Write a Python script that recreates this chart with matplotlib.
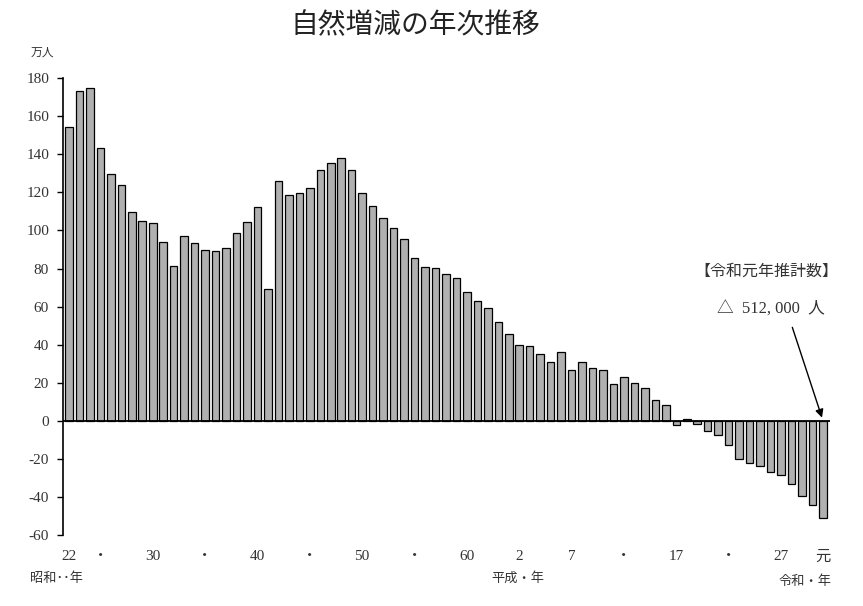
import numpy as np
import matplotlib
matplotlib.use("Agg")
import matplotlib.pyplot as plt

# natural increase (births - deaths), unit: 10,000 persons, 1947 (S22) .. 2019 (R1)
years = list(range(1947, 2020))
natural_increase = [
    154.1, 173.1, 175.1, 143.3, 129.9, 124.0, 109.5, 104.8, 103.7, 94.1,
    81.4, 96.9, 93.6, 89.9, 89.4, 90.8, 98.9, 104.4, 112.3, 69.1,
    126.1, 118.5, 119.6, 122.1, 131.6, 135.5, 138.3, 131.9, 119.9, 112.9,
    106.5, 101.3, 95.3, 85.4, 80.9, 80.4, 76.9, 75.0, 67.9, 63.2,
    59.5, 52.1, 45.8, 40.1, 39.3, 35.2, 31.0, 36.2, 26.5, 31.0,
    27.8, 26.7, 19.6, 22.9, 20.0, 17.1, 10.9, 8.2, -2.1, 0.8,
    -1.9, -5.1, -7.2, -12.6, -20.2, -21.9, -23.9, -26.9, -28.5, -33.1,
    -39.4, -44.4, -51.2,
]

tick_years = [1947, 1950, 1955, 1960, 1965, 1970, 1975, 1980, 1985,
              1990, 1995, 2000, 2005, 2010, 2015, 2019]
tick_labels = ["22", "・", "30", "・", "40", "・", "50", "・", "60",
               "2", "7", "・", "17", "・", "27", "元"]

estimate_title = "【令和元年推計数】"
estimate_text = "△  512, 000  人"

plt.rcParams['font.family'] = ['Liberation Serif', 'Noto Sans CJK JP']
plt.rcParams['axes.unicode_minus'] = False

fig = plt.figure(figsize=(8.63, 6.06), dpi=100)
ax = fig.add_axes([0.073, 0.117, 0.889, 0.754])

x = np.arange(len(years))
ax.bar(x, natural_increase, width=0.72, color='#b0b0b0', edgecolor='black', linewidth=0.9, zorder=2)
ax.axhline(0, color='black', linewidth=1.3, zorder=3)

ax.set_xlim(-0.57, 72.7)
ax.set_ylim(-60, 180)
ax.set_yticks(range(-60, 181, 20))
ax.tick_params(axis='y', direction='out', length=4, width=1, labelsize=11, colors='black', pad=6)
for lab in ax.get_yticklabels():
    lab.set_color('#333333')

tick_pos = [y - years[0] for y in tick_years]
ax.set_xticks(tick_pos)
ax.set_xticklabels(tick_labels, fontsize=11, color='#333333')
ax.tick_params(axis='x', length=0, pad=11)

for side in ['top', 'right', 'bottom']:
    ax.spines[side].set_visible(False)
ax.spines['left'].set_linewidth(1.2)

fig.text(0.481, 0.958, "自然増減の年次推移", fontsize=20, ha='center', va='center',
         family=['Noto Sans CJK JP'], color='#222222')
fig.text(0.049, 0.914, "万人", fontsize=8.5, ha='center', va='center',
         family=['Noto Sans CJK JP'], color='#333333')

fig.text(0.066, 0.046, "昭和･･年", fontsize=9.5, ha='center', va='center',
         family=['Noto Sans CJK JP'], color='#333333')
fig.text(0.600, 0.046, "平成・年", fontsize=9.5, ha='center', va='center',
         family=['Noto Sans CJK JP'], color='#333333')
fig.text(0.933, 0.040, "令和・年", fontsize=9.5, ha='center', va='center',
         family=['Noto Sans CJK JP'], color='#333333')

ax.text(66.6, 78.5, estimate_title, fontsize=11.5, ha='center', va='center',
        family=['Noto Sans CJK JP'], color='#333333')
ax.text(67.0, 58.5, estimate_text, fontsize=12, ha='center', va='center', color='#333333')
ax.annotate('', xy=(x[-1], 0.3), xytext=(69.0, 50.5),
            arrowprops=dict(arrowstyle='-|>', color='black', lw=1.0, mutation_scale=12), zorder=4)

fig.savefig('out.png', dpi=100, facecolor='white')
